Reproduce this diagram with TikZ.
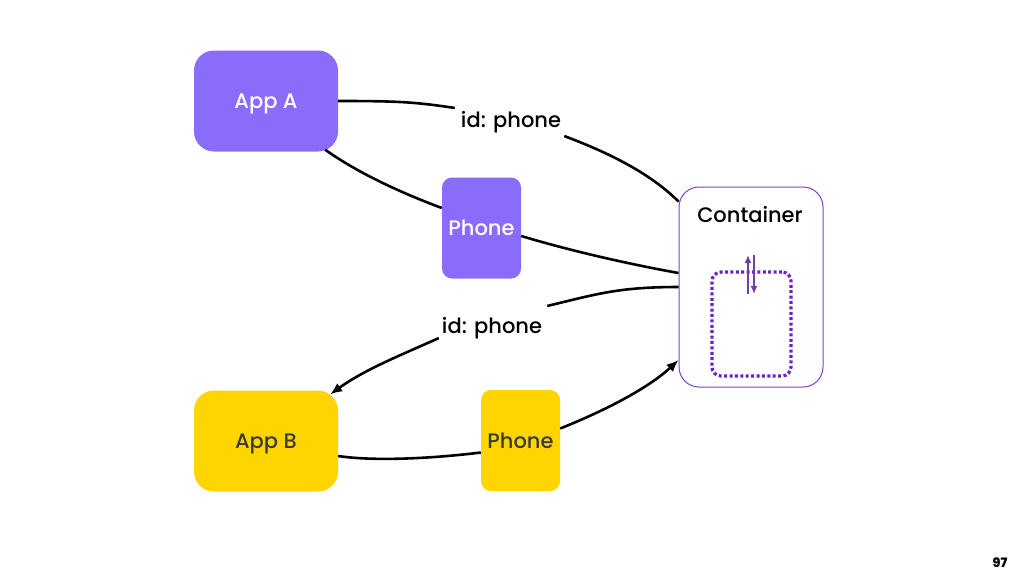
\documentclass[tikz,border=0pt]{standalone}
\usepackage{fontspec}
\setmainfont{Poppins Medium}
\usetikzlibrary{arrows.meta}
\definecolor{color1}{HTML}{8A6BFA}
\definecolor{color2}{HTML}{FFD500}
\definecolor{color3}{HTML}{7B3FD4}
\definecolor{color4}{HTML}{6E3FA6}
\definecolor{color5}{HTML}{3A3A3A}
\definecolor{color6}{HTML}{6A22C6}

\begin{document}
\begin{tikzpicture}[x = 1pt, y = -1pt,
  font = \fontsize{21}{25}\selectfont,
  app/.style = {rounded corners = 20pt, minimum width = 144pt, minimum height = 101pt, inner sep = 0pt, text depth = 0pt},
  phonebox/.style = {rounded corners = 10pt, minimum width = 79pt, minimum height = 101pt, inner sep = 0pt, text depth = 0pt},
  link/.style = {line width = 2.6pt, black},
  idlabel/.style = {fill = white, inner sep = 3pt}]

\useasboundingbox (0, 0) rectangle (1024, 576);

\node [app, fill = color1, text = white] (appA) at (266, 101) {App A};
\node [phonebox, fill = color1, text = white] (phoneA) at (481.5, 228) {Phone};
\node [app, fill = color2, text = color5] (appB) at (266, 441) {App B};
\node [phonebox, fill = color2, text = color5] (phoneB) at (520.5, 440.5) {Phone};
\node [draw = color3, line width = 1pt, rounded corners = 20pt, minimum width = 144pt, minimum height = 200pt] (cont) at (751, 287) {};
\node (contitle) at (750, 215) {Container};
\node [draw = color6, line width = 3.2pt, dash pattern = on 3pt off 2.4pt, rounded corners = 9pt, minimum width = 79pt, minimum height = 104pt] (store) at (751.5, 324) {};
\node [idlabel] (idA) at (511, 122) {id: phone};
\node [idlabel] (idB) at (492, 328) {id: phone};

% container inner arrows
\coordinate (upA) at (748, 294); \coordinate (upB) at (748, 255);
\coordinate (dnA) at (754, 255); \coordinate (dnB) at (754, 294);
\draw [line width = 1.5pt, color4, -{Latex[length = 8pt, width = 7pt]}] (upA) -- (upB);
\draw [line width = 1.5pt, color4, -{Latex[length = 8pt, width = 7pt]}] (dnA) -- (dnB);

% app A side
\draw [link] (appA.east) .. controls +(60, 0) and +(-40, -6) .. ([xshift = -3pt]idA.north west);
\draw [link] (idA.south east) .. controls +(40, 15) and +(-30, -30) .. ([yshift = -15pt]cont.north west);
\draw [link] ([xshift = -13pt, yshift = 2pt]appA.south east) .. controls +(35, 25) and +(-35, -13) .. ([yshift = 20pt]phoneA.west);
\draw [link] ([yshift = -8pt]phoneA.east) .. controls +(50, 15) and +(-50, -9) .. ([yshift = 14pt]cont.west);

% app B side
\draw [link] (cont.west) .. controls +(-60, 0) and +(50, -12) .. ([shift = {(2pt, 8pt)}]idB.north east);
\draw [link, -{Latex[length = 12pt, width = 10pt]}] ([yshift = 4pt]idB.south west) .. controls +(-40, 18) and +(35, -25) .. ([xshift = -8pt, yshift = -4pt]appB.north east);
\draw [link] ([yshift = -15pt]appB.east) .. controls +(40, 6) and +(-40, 5) .. ([yshift = -12pt]phoneB.west);
\draw [link, -{Latex[length = 12pt, width = 10pt]}] ([yshift = 12pt]phoneB.east) .. controls +(45, -18) and +(-30, 28) .. ([yshift = -73pt]cont.west);

\node [font = \fontsize{13}{15}\selectfont\bfseries] (page) at (1000, 563) {97};

\end{tikzpicture}
\end{document}
